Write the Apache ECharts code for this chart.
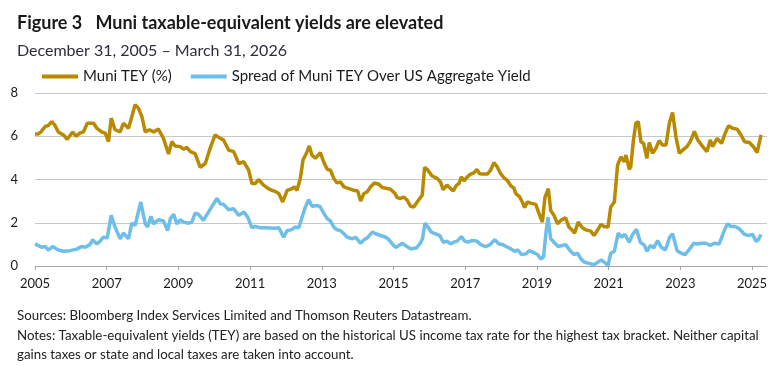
<!DOCTYPE html>
<html>
<head>
<meta charset="utf-8">
<script src="https://cdn.jsdelivr.net/npm/echarts@6/dist/echarts.min.js"></script>
<style>
  html, body { margin: 0; padding: 0; background: #fff; }
  #chart { width: 775px; height: 372px; }
</style>
</head>
<body>
<div id="chart"></div>
<script>
// x values are months after Dec 31, 2005
const muniMonths = [0, 1, 2, 3.4, 4.5, 5.6, 6.7, 7.8, 9.5, 10.8, 12.6, 13.7, 15, 16.2, 17.5, 19.6, 20.7, 22.3, 23.5, 24.6,
  25.5, 26.8, 28.5, 29.6, 31.3, 32.4, 33.5, 34.6, 35.8, 36.9, 38.3, 39.7, 41.3, 43, 44.7, 45.8, 46.9, 48.6, 49.7, 50.8,
  52, 53.6, 55.3, 57, 58.6, 60.3, 62, 63.1, 64.8, 66.5, 68.2, 69.9, 71.5, 72.6, 73.7, 74.8, 76.5, 78.1, 79.3, 80.4,
  81.6, 82.9, 84.4, 86.1, 86.8, 87.7, 88.8, 89.7, 90.8, 91.8, 92.7, 93.8, 95.5, 96.6, 97.8, 98.9, 100, 101.1, 102.2, 103.4,
  105.1, 106.7, 108, 109, 110.1, 111.2, 112.3, 113.6, 115.1, 116.2, 117.9, 119, 120.5, 121.2, 122.3, 123.4, 124.6, 125.7, 126.8, 127.9,
  129.6, 130.4, 131.5, 132.9, 134.6, 135.7, 136.6, 137.9, 139.1, 140, 141.1, 141.9, 142.7, 143.6, 144.7, 145.8, 146.9, 147.9, 148.7, 149.7,
  151.4, 152.5, 153.6, 154.7, 155.8, 156.9, 158, 159.2, 160.3, 160.9, 162.1, 163.1, 163.9, 164.8, 165.9, 167.6, 168.7, 169.8, 170.7, 171.8,
  172.6, 173.7, 174.9, 176, 177.6, 178.7, 179.9, 180.6, 181.8, 183.2, 184.4, 186, 187.1, 188.2, 189.4, 190.5, 191.8, 192.7, 193.9, 195,
  196.1, 197.2, 197.8, 198.9, 199.4, 200.3, 201.1, 201.9, 202.8, 203.7, 204.8, 205.6, 206.7, 207.8, 208.9, 210, 211.2, 212.3, 213.4, 214.6,
  215.7, 216.8, 218.2, 219.3, 220.7, 221.8, 223.5, 224.9, 226, 226.8, 228.3, 229.8, 231, 232.1, 233.5, 235, 236.3, 237.5, 239.1, 240.6,
  241.7, 243];
const muniTey = [6.1, 6.1, 6.2, 6.45, 6.5, 6.68, 6.5, 6.2, 6.06, 5.86, 6.2, 6.0, 6.14, 6.2, 6.6, 6.6, 6.37, 6.2, 6.14, 5.75,
  6.84, 6.3, 6.2, 6.6, 6.37, 6.9, 7.46, 7.3, 6.9, 6.2, 6.3, 6.2, 6.33, 5.9, 5.18, 5.75, 5.55, 5.52, 5.4, 5.49,
  5.29, 5.2, 4.56, 4.74, 5.44, 6.06, 5.9, 5.83, 5.36, 5.29, 4.74, 4.82, 4.43, 3.81, 3.81, 4.0, 3.74, 3.58, 3.5, 3.45,
  3.35, 2.96, 3.5, 3.58, 3.66, 3.5, 4.05, 4.9, 5.2, 5.55, 5.13, 4.98, 5.24, 4.82, 4.47, 4.43, 4.05, 3.84, 3.89, 3.66,
  3.58, 3.5, 3.47, 3.0, 3.35, 3.43, 3.66, 3.84, 3.78, 3.63, 3.58, 3.55, 3.35, 3.16, 3.12, 3.19, 3.04, 2.76, 2.73, 2.96,
  3.27, 4.56, 4.43, 4.16, 4.05, 3.89, 3.53, 3.74, 3.58, 3.47, 3.74, 3.81, 4.12, 3.94, 4.12, 4.25, 4.31, 4.47, 4.28, 4.25,
  4.25, 4.43, 4.78, 4.59, 4.28, 4.09, 3.97, 3.72, 3.6, 3.35, 3.22, 2.96, 2.7, 2.96, 2.91, 2.85, 2.42, 2.03, 3.19, 3.58,
  2.57, 2.34, 1.95, 2.11, 2.23, 1.8, 1.64, 1.52, 2.03, 1.77, 1.67, 1.61, 1.41, 1.64, 1.92, 1.83, 1.8, 2.73, 2.96, 4.67,
  5.05, 4.82, 5.13, 4.47, 4.59, 5.83, 6.6, 6.68, 5.75, 5.67, 4.98, 5.71, 5.21, 5.44, 5.8, 5.6, 5.6, 6.6, 7.1, 5.9,
  5.21, 5.36, 5.52, 5.75, 6.22, 5.83, 5.52, 5.29, 5.83, 5.52, 5.9, 5.67, 6.14, 6.48, 6.37, 6.33, 6.06, 5.75, 5.71, 5.49,
  5.24, 6.06];

const spreadMonths = [0, 2.2, 3.4, 4.5, 5.9, 7.8, 9.5, 11.7, 14, 15.6, 16.8, 18.4, 19.3, 20.7, 21.8, 22.9, 24.2, 25.5, 26.8, 28.5,
  29.6, 31.3, 32.4, 33.5, 35.4, 36.9, 37.7, 38.8, 39.7, 41.3, 43, 44.4, 45.3, 46.4, 47.5, 48.6, 49.7, 51.4, 52.5, 53.6,
  54.7, 56.4, 58.1, 59.8, 60.9, 62, 63.1, 64.8, 66.5, 68.2, 69.9, 71.2, 72.6, 73.7, 75.4, 77.1, 78.8, 80.4, 81.6, 82.1,
  83.2, 84.4, 85.7, 87.2, 88.3, 89.4, 90.5, 91.6, 92.7, 94.4, 95.5, 96.6, 97.8, 98.9, 100, 101.1, 102.2, 103.4, 104.5, 106.2,
  107.3, 109, 110.1, 111.2, 112.9, 114, 115.7, 117.4, 118.5, 119.6, 120.7, 121.8, 122.9, 124, 125.7, 127.7, 128.8, 129.7, 130.5, 131.5,
  132.6, 134.1, 135.5, 136.6, 137.9, 139.1, 140.2, 141.3, 142.7, 143.8, 144.9, 146.4, 147.9, 149.2, 150.8, 152.3, 153.9, 155.3, 156.5, 158.2,
  159.3, 160.5, 161.6, 162.8, 164.3, 165.4, 166.6, 168.2, 169.3, 170.2, 171.1, 171.7, 172.6, 173.7, 175.1, 176.5, 177.6, 179.1, 180.4, 181.6,
  182.7, 184, 185.5, 187.1, 188.4, 189.5, 190.6, 191.8, 192.7, 193.9, 195.2, 196.3, 197.4, 198.9, 200, 201.3, 202.6, 204, 204.8, 206,
  207.1, 208.4, 209.6, 211, 212.4, 213.4, 214.9, 216.3, 217.6, 218.7, 220.5, 221.6, 223, 224.6, 226, 227.3, 229, 230.7, 231.8, 232.9,
  234.3, 235.7, 237.5, 238.8, 240.2, 241.3, 242.1, 243];
const spreadTey = [1.02, 0.87, 0.9, 0.74, 0.9, 0.74, 0.68, 0.71, 0.78, 0.9, 0.87, 0.99, 1.21, 1.02, 1.15, 1.33, 1.3, 2.34, 1.8, 1.26,
  1.52, 1.26, 1.98, 1.88, 2.96, 1.95, 1.8, 2.3, 1.95, 2.14, 2.08, 1.64, 2.19, 2.39, 1.95, 2.14, 2.03, 1.98, 2.03, 2.45,
  2.39, 2.11, 2.5, 2.88, 3.12, 2.88, 2.85, 2.6, 2.65, 2.34, 2.5, 2.26, 1.77, 1.83, 1.77, 1.77, 1.76, 1.75, 1.77, 1.64,
  1.33, 1.64, 1.67, 1.8, 1.77, 2.26, 2.73, 3.07, 2.76, 2.8, 2.73, 2.45, 2.19, 2.08, 1.8, 1.67, 1.64, 1.49, 1.33, 1.26,
  1.33, 1.05, 1.21, 1.3, 1.57, 1.49, 1.41, 1.33, 1.21, 1.02, 0.86, 0.95, 1.05, 0.95, 0.79, 0.84, 1.02, 1.26, 1.98, 1.8,
  1.57, 1.49, 1.41, 1.1, 1.15, 1.02, 1.1, 1.15, 1.36, 1.15, 1.1, 1.18, 1.15, 0.99, 0.9, 0.99, 1.21, 1.02, 0.99, 0.87,
  0.79, 0.68, 0.74, 0.53, 0.56, 0.71, 0.64, 0.53, 0.33, 0.4, 1.64, 2.26, 1.26, 1.1, 0.9, 0.95, 0.99, 0.71, 0.53, 0.59,
  0.33, 0.17, 0.12, 0.06, 0.17, 0.28, 0.17, 0.02, 0.59, 0.68, 1.52, 1.33, 1.46, 1.1, 1.46, 1.7, 1.1, 0.95, 0.68, 0.95,
  0.84, 1.18, 0.87, 0.74, 1.33, 1.49, 0.71, 0.59, 0.53, 0.71, 1.05, 1.02, 1.05, 1.05, 0.95, 1.05, 1.02, 1.64, 1.95, 1.83,
  1.83, 1.72, 1.46, 1.41, 1.46, 1.15, 1.21, 1.46];

const yearTicks = [2005, 2007, 2009, 2011, 2013, 2015, 2017, 2019, 2021, 2023, 2025];
const seriesNames = ['Muni TEY (%)', 'Spread of Muni TEY Over US Aggregate Yield'];

const FONT = 'Lato, "Open Sans", sans-serif';
const gold = '#B98A00';
const blue = '#6EBEEA';

const zip = (xs, ys) => xs.map((x, i) => [x, ys[i]]);

const chart = echarts.init(document.getElementById('chart'), null, { renderer: 'canvas' });

const option = {
    animation: false,
    textStyle: { fontFamily: FONT },
    title: [
        {
            text: 'Figure 3   Muni taxable-equivalent yields are elevated',
            left: 12, top: 9,
            textStyle: { fontFamily: FONT, fontSize: 18, fontWeight: 'bold', color: '#1a1a1a' },
        },
        {
            text: 'December 31, 2005 \u2013 March 31, 2026',
            left: 12, top: 38,
            textStyle: { fontFamily: FONT, fontSize: 16, fontWeight: 'normal', color: '#2e2e3a' },
        },
        {
            text: 'Sources: Bloomberg Index Services Limited and Thomson Reuters Datastream.\n' +
                'Notes: Taxable-equivalent yields (TEY) are based on the historical US income tax rate for the highest tax bracket. Neither capital\n' +
                'gains taxes or state and local taxes are taken into account.',
            left: 12, top: 301,
            textStyle: { fontFamily: FONT, fontSize: 13.3, fontWeight: 'normal', color: '#222', lineHeight: 19.5 },
        },
    ],
    legend: {
        left: 37, top: 64,
        icon: 'rect',
        itemWidth: 36, itemHeight: 4,
        itemGap: 19,
        textStyle: { fontFamily: FONT, fontSize: 15, color: '#1a1a1a' },
        data: seriesNames,
    },
    grid: { left: 35, right: 8, top: 93, bottom: 106 },
    xAxis: {
        type: 'value',
        min: 0, max: 245, interval: 24,
        splitLine: { show: false },
        axisLine: { lineStyle: { color: '#A6A6A6', width: 1 } },
        axisTick: { show: true, length: 4, lineStyle: { color: '#A6A6A6' } },
        axisLabel: {
            margin: 11,
            fontFamily: FONT, fontSize: 13, color: '#1a1a1a',
            showMaxLabel: false,
            formatter: v => (v % 24 === 0 ? String(yearTicks[v / 24]) : ''),
        },
    },
    yAxis: {
        type: 'value',
        min: 0, max: 8, interval: 2,
        axisLine: { show: false },
        axisTick: { show: false },
        splitLine: { lineStyle: { color: '#C8C8C8', width: 1 } },
        axisLabel: { margin: 17, fontFamily: FONT, fontSize: 13, color: '#1a1a1a' },
    },
    series: [
        {
            name: seriesNames[0],
            type: 'line',
            showSymbol: false,
            color: gold,
            lineStyle: { color: gold, width: 3.5 },
            data: zip(muniMonths, muniTey),
        },
        {
            name: seriesNames[1],
            type: 'line',
            showSymbol: false,
            color: blue,
            lineStyle: { color: blue, width: 3.5 },
            data: zip(spreadMonths, spreadTey),
        },
    ],
};

chart.setOption(option);
</script>
</body>
</html>
